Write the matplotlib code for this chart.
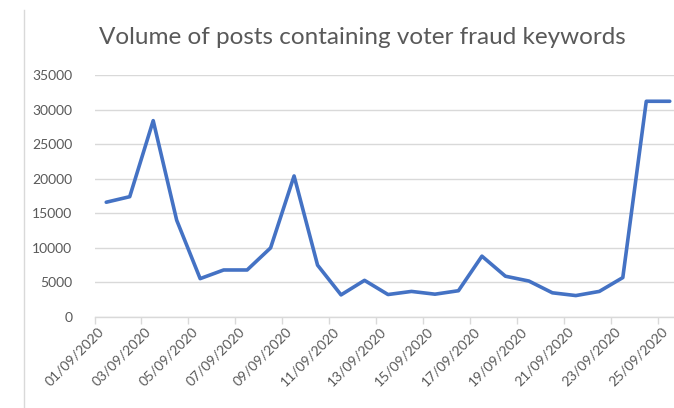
import matplotlib.pyplot as plt
from matplotlib.lines import Line2D

# daily volume of posts, 01/09/2020 .. 25/09/2020
dates = ["%02d/09/2020" % d for d in range(1, 26)]
volume = [16600, 17400, 28400, 14000, 5550, 6800, 6800, 10000, 20400, 7500,
          3200, 5300, 3250, 3700, 3300, 3800, 8800, 5900, 5200, 3500,
          3100, 3700, 5700, 31200, 31200]
y_ticks = [0, 5000, 10000, 15000, 20000, 25000, 30000, 35000]

plt.rcParams['font.family'] = ['Lato', 'DejaVu Sans']
grey_txt = '#595959'
grey_line = '#D9D9D9'

fig = plt.figure(figsize=(6.74, 4.08), dpi=100)
ax = fig.add_axes([94.5 / 674, 91 / 408, 587 / 674, 242 / 408])

x = list(range(len(dates)))
ax.plot(x, volume, color='#4472C4', linewidth=2.6, solid_joinstyle='round',
        solid_capstyle='round', zorder=3)

ax.set_xlim(-0.5, len(dates) - 0.5)
ax.set_ylim(0, 35000)
ax.set_yticks(y_ticks)
ax.set_yticklabels([str(v) for v in y_ticks])
ax.grid(axis='y', color=grey_line, linewidth=1)
ax.set_axisbelow(True)

# labels every second day, tick marks on category boundaries
ax.set_xticks(x[::2])
ax.set_xticklabels(dates[::2], rotation=45, ha='right', va='top')
ax.set_xticks([i - 0.5 for i in range(0, len(dates) + 1, 2)], minor=True)
ax.tick_params(axis='x', which='major', length=0, pad=6, labelsize=10, colors=grey_txt)
ax.tick_params(axis='x', which='minor', length=5, width=1, color=grey_line)
ax.tick_params(axis='y', length=0, pad=16, labelsize=10, colors=grey_txt)

for s in ['top', 'right', 'left']:
    ax.spines[s].set_visible(False)
ax.spines['bottom'].set_color(grey_line)
ax.spines['bottom'].set_linewidth(1)

fig.text(362 / 674, 1 - 38 / 408, "Volume of posts containing voter fraud keywords",
         ha='center', va='center', fontsize=17.5, color=grey_txt)

# chart frame edge on the left
fig.add_artist(Line2D([24 / 674, 24 / 674], [0, 1 - 10 / 408],
                      transform=fig.transFigure, color=grey_line, linewidth=1))

fig.savefig('out.png', dpi=100)
